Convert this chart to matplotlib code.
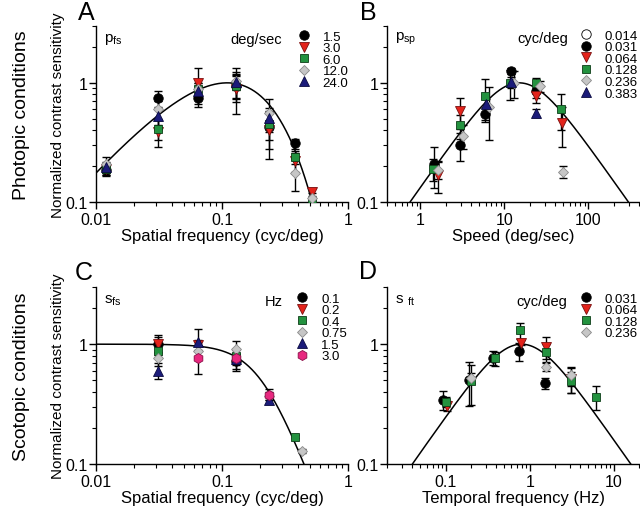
import numpy as np
import matplotlib
matplotlib.use("Agg")
import matplotlib.pyplot as plt
from matplotlib.ticker import FixedLocator, LogLocator, NullFormatter, FixedFormatter

plt.rcParams['font.family'] = ['Liberation Sans', 'DejaVu Sans']
plt.rcParams['mathtext.default'] = 'regular'

nan = np.nan

# ---------------- Panel A: photopic, SF tuning (series = speed, deg/sec)
A_labels = ["1.5", "3.0", "6.0", "12.0", "24.0"]
A_sf = [0.012, 0.031, 0.064, 0.128, 0.236, 0.383, 0.52]
A_vals = [
    [0.185, 0.74, 0.75, 0.94, 0.43, 0.31, nan],
    [0.19, 0.39, 1.00, 0.89, 0.40, 0.22, 0.122],
    [0.19, 0.41, 0.88, 0.95, 0.45, 0.238, 0.102],
    [0.21, 0.60, 0.89, 1.03, 0.56, 0.174, 0.108],
    [0.195, 0.525, 0.85, 1.02, 0.51, nan, nan],
]
A_err = [
    [0.02, 0.11, 0.12, 0.25, 0.15, 0.03, nan],
    [0.02, 0.10, 0.33, 0.34, 0.17, 0.04, 0.01],
    [0.02, 0.08, 0.12, 0.20, 0.12, 0.03, 0.005],
    [0.03, 0.10, 0.10, 0.30, 0.17, 0.05, 0.01],
    [0.02, 0.08, 0.10, 0.15, 0.10, nan, nan],
]

# ---------------- Panel B: photopic, speed tuning (series = SF, cyc/deg)
B_labels = ["0.014", "0.031", "0.064", "0.128", "0.236", "0.383"]
B_speed = [
    [nan],
    [1.47, 2.95, 5.8, 12.0, 24.0],
    [1.6, 2.95, 6.0, 24.0, 48.0],
    [1.42, 2.95, 5.8, 11.5, 23.7, 47.0],
    [1.6, 3.2, 6.5, 13.0, 26.5, 50.0],
    [6.0, 12.0, 24.0],
]
B_vals = [
    [nan],
    [0.21, 0.30, 0.55, 1.25, 0.85],
    [0.17, 0.58, nan, 0.78, 0.46],
    [0.19, 0.44, 0.77, 1.00, 1.00, 0.60],
    [0.185, 0.36, 0.63, 1.00, 0.94, 0.18],
    [0.67, 1.01, 0.56],
]
B_err = [
    [nan],
    [0.08, 0.08, 0.06, 0.07, 0.10],
    [0.05, 0.17, nan, 0.10, 0.17],
    [0.04, 0.10, 0.30, 0.28, 0.10, 0.20],
    [0.03, 0.08, 0.30, 0.25, 0.10, 0.02],
    [0.06, 0.10, 0.04],
]

# ---------------- Panel C: scotopic, SF tuning (series = TF, Hz)
C_labels = ["0.1", "0.2", "0.4", "0.75", "1.5", "3.0"]
C_sf = [0.031, 0.064, 0.128, 0.236, 0.383, 0.43]
C_vals = [
    [1.00, nan, 0.72, nan, nan, nan],
    [1.00, 0.99, nan, nan, nan, nan],
    [0.88, nan, 0.80, nan, 0.169, nan],
    [0.76, 0.88, 0.91, 0.37, nan, 0.129],
    [0.60, 1.05, 0.75, 0.345, nan, nan],
    [nan, 0.76, 0.76, 0.38, nan, nan],
]
C_err = [
    [0.19, nan, 0.10, nan, nan, nan],
    [0.15, 0.10, nan, nan, nan, nan],
    [0.12, nan, 0.10, nan, 0.005, nan],
    [0.10, 0.10, 0.16, 0.03, nan, 0.005],
    [0.09, 0.28, 0.08, 0.03, nan, nan],
    [nan, 0.20, 0.16, 0.04, nan, nan],
]

# ---------------- Panel D: scotopic, TF tuning (series = SF, cyc/deg)
D_labels = ["0.031", "0.064", "0.128", "0.236"]
D_tf = [
    [0.094, 0.19, 0.37, 0.75, 1.5],
    [0.105, 0.78, 1.56, 3.1],
    [0.10, 0.20, 0.39, 0.76, 1.56, 3.1, 6.1],
    [0.20, 1.56, 3.1],
]
D_vals = [
    [0.343, 0.505, 0.77, 0.88, 0.47],
    [0.306, 1.03, 0.95, 0.51],
    [0.33, 0.49, 0.76, 1.31, 0.86, 0.49, 0.364],
    [0.52, 0.65, 0.55],
]
D_err = [
    [0.06, 0.20, 0.10, 0.15, 0.05],
    [0.03, 0.05, 0.20, 0.12],
    [0.03, 0.18, 0.10, 0.20, 0.15, 0.10, 0.08],
    [0.05, 0.05, 0.10],
]

# ---------------- marker styles
RED = '#e3231b'
GREEN = '#23923f'
GRAY = '#c6c6c6'
BLUE = '#1b1b7a'
PINK = '#e8287f'
st_black = dict(marker='o', mfc='black', mec='black', ms=6.8)
st_red = dict(marker='v', mfc=RED, mec='#7a1010', ms=6.8)
st_green = dict(marker='s', mfc=GREEN, mec='#0d3d18', ms=6.0)
st_gray = dict(marker='D', mfc=GRAY, mec='#8a8a8a', ms=5.4)
st_blue = dict(marker='^', mfc=BLUE, mec='#0a0a40', ms=6.8)
st_pink = dict(marker='h', mfc=PINK, mec='#8a1048', ms=7.2)
st_open = dict(marker='o', mfc='white', mec='black', ms=6.8)

A_styles = [st_black, st_red, st_green, st_gray, st_blue]
B_styles = [st_open, st_black, st_red, st_green, st_gray, st_blue]
C_styles = [st_black, st_red, st_green, st_gray, st_blue, st_pink]
D_styles = [st_black, st_red, st_green, st_gray]

# ---------------- fitted model curves
def curve_A(f, fp=0.11, a=1.218, b=0.92):
    r = f / fp
    return np.exp(a * np.log(r) + (a / b) * (1 - r ** b))

def curve_bandpass(x, x0):
    return 2.0 / (x / x0 + x0 / x)

def curve_C(f, fc=0.204, n=2.8):
    return 1.0 / (1.0 + (f / fc) ** n)

fig = plt.figure(figsize=(6.4, 5.1), dpi=100)
W, H = 640.0, 510.0

def make_ax(l, t, r, b):
    return fig.add_axes([l / W, 1 - b / H, (r - l) / W, (b - t) / H])

axA = make_ax(96, 27, 348, 203)
axB = make_ax(387, 27, 639, 203)
axC = make_ax(96, 288, 348, 465)
axD = make_ax(387, 288, 639, 465)

def style_axis(ax, xlim, xt, xtl):
    ax.set_xscale('log')
    ax.set_yscale('log')
    ax.set_xlim(*xlim)
    ax.set_ylim(0.1, 3)
    for s in ('top', 'right'):
        ax.spines[s].set_visible(False)
    for s in ('left', 'bottom'):
        ax.spines[s].set_linewidth(1.0)
    ax.xaxis.set_major_locator(FixedLocator(xt))
    ax.xaxis.set_major_formatter(FixedFormatter(xtl))
    ax.xaxis.set_minor_locator(LogLocator(base=10, subs=np.arange(2, 10)))
    ax.xaxis.set_minor_formatter(NullFormatter())
    ax.yaxis.set_major_locator(FixedLocator([0.1, 1]))
    ax.yaxis.set_major_formatter(FixedFormatter(['0.1', '1']))
    ax.yaxis.set_minor_locator(LogLocator(base=10, subs=np.arange(2, 10)))
    ax.yaxis.set_minor_formatter(NullFormatter())
    ax.tick_params(which='major', direction='out', length=5, width=1.0, labelsize=11.5, pad=2)
    ax.tick_params(which='minor', direction='out', length=3, width=0.8)
    ax.tick_params(axis='y', which='major', pad=1)

def draw_series(ax, xs, ys, es, styles, labels):
    handles = []
    for x, y, e, s, lab in zip(xs, ys, es, styles, labels):
        ax.errorbar(x, y, yerr=e, fmt='none', ecolor='black', elinewidth=1.0,
                    capsize=3, capthick=1.0, zorder=2)
        h, = ax.plot(x, y, linestyle='none', mew=0.6, zorder=3, label=lab, **s)
        handles.append(h)
    return handles

def add_legend(ax, handles, title, title_xy, anchor):
    ax.legend(handles=handles, loc='upper left', bbox_to_anchor=anchor,
              frameon=False, fontsize=9.5, handlelength=0.9, handletextpad=1.0,
              labelspacing=-0.05, borderpad=0, borderaxespad=0, numpoints=1)
    ax.text(title_xy[0], title_xy[1], title, transform=ax.transAxes, fontsize=10.5,
            ha='right', va='center')

# Panel A
style_axis(axA, (0.01, 1), [0.01, 0.1, 1], ['0.01', '0.1', '1'])
fA = np.logspace(-2, 0, 400)
axA.plot(fA, curve_A(fA), color='black', lw=1.1, zorder=2.5)
hA = draw_series(axA, [A_sf] * 5, A_vals, A_err, A_styles, A_labels)
add_legend(axA, hA, 'deg/sec', (0.738, 0.926), (0.80, 0.975))
axA.set_xlabel('Spatial frequency (cyc/deg)', fontsize=12, labelpad=1)
axA.set_ylabel('Normalized contrast sensitivity', fontsize=11, labelpad=0)

# Panel B
style_axis(axB, (0.4, 400), [1, 10, 100], ['1', '10', '100'])
vB = np.logspace(np.log10(0.4), np.log10(400), 400)
axB.plot(vB, curve_bandpass(vB, 15.0), color='black', lw=1.1, zorder=2.5)
hB = draw_series(axB, B_speed, B_vals, B_err, B_styles, B_labels)
add_legend(axB, hB, 'cyc/deg', (0.718, 0.932), (0.765, 0.98))
axB.set_xlabel('Speed (deg/sec)', fontsize=12, labelpad=1)

# Panel C
style_axis(axC, (0.01, 1), [0.01, 0.1, 1], ['0.01', '0.1', '1'])
fC = np.logspace(-2, 0, 400)
axC.plot(fC, curve_C(fC), color='black', lw=1.1, zorder=2.5)
hC = draw_series(axC, [C_sf] * 6, C_vals, C_err, C_styles, C_labels)
add_legend(axC, hC, 'Hz', (0.742, 0.921), (0.795, 0.97))
axC.set_xlabel('Spatial frequency (cyc/deg)', fontsize=12, labelpad=1)
axC.set_ylabel('Normalized contrast sensitivity', fontsize=11, labelpad=0)

# Panel D
style_axis(axD, (0.02, 20), [0.1, 1, 10], ['0.1', '1', '10'])
tD = np.logspace(np.log10(0.02), np.log10(20), 400)
axD.plot(tD, curve_bandpass(tD, 0.8), color='black', lw=1.1, zorder=2.5)
hD = draw_series(axD, D_tf, D_vals, D_err, D_styles, D_labels)
add_legend(axD, hD, 'cyc/deg', (0.714, 0.921), (0.765, 0.97))
axD.set_xlabel('Temporal frequency (Hz)', fontsize=12, labelpad=1)

# condition subscripts
for ax, txt in ((axA, r'$\mathregular{p_{fs}}$'), (axB, r'$\mathregular{p_{sp}}$'),
                (axC, r'$\mathregular{s_{fs}}$'), (axD, r'$\mathregular{s\ _{ft}}$')):
    ax.text(0.03, 0.93, txt, transform=ax.transAxes, fontsize=11, ha='left', va='center')

# panel letters
for (x, y, t) in ((86, 13, 'A'), (368, 13, 'B'), (84, 273, 'C'), (368, 272, 'D')):
    fig.text(x / W, 1 - y / H, t, fontsize=18, ha='center', va='center')

# row labels
fig.text(22 / W, 1 - 115 / H, 'Photopic conditions', rotation=90, fontsize=14,
         ha='center', va='center')
fig.text(22 / W, 1 - 377 / H, 'Scotopic conditions', rotation=90, fontsize=14,
         ha='center', va='center')

fig.savefig('out.png', dpi=100)
